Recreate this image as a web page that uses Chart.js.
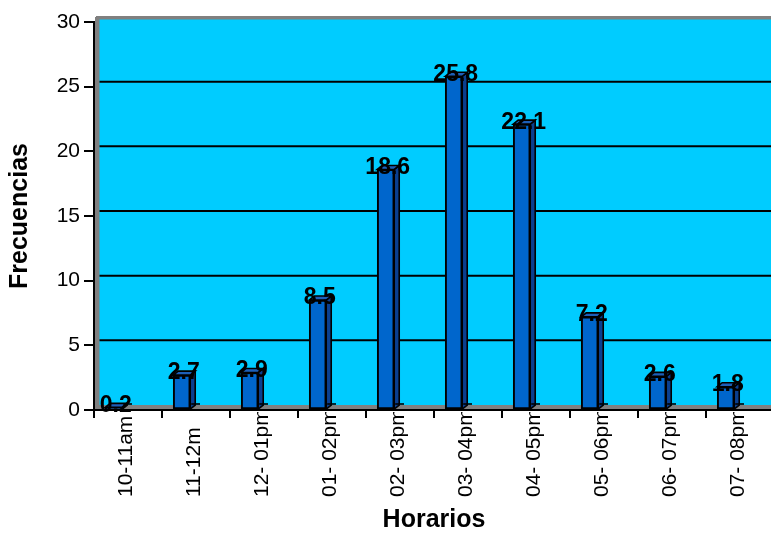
<!DOCTYPE html>
<html>
<head>
<meta charset="utf-8">
<script src="https://cdn.jsdelivr.net/npm/chart.js@4"></script>
<style>
  html, body { margin: 0; padding: 0; background: #fff; overflow: hidden; }
  #wrap { width: 775px; height: 533px; }
</style>
</head>
<body>
<div id="wrap"><canvas id="c" width="775" height="533"></canvas></div>
<script>
const categories = ["10-11am", "11-12m", "12- 01pm", "01- 02pm", "02- 03pm", "03- 04pm", "04- 05pm", "05- 06pm", "06- 07pm", "07- 08pm"];
const values = [0.2, 2.7, 2.9, 8.5, 18.6, 25.8, 22.1, 7.2, 2.6, 1.8];
const valueLabels = ["0.2", "2.7", "2.9", "8.5", "18.6", "25.8", "22.1", "7.2", "2.6", "1.8"];
const yTickValues = [0, 5, 10, 15, 20, 25, 30];
const xTitle = "Horarios";
const yTitle = "Frecuencias";

const FONT = "'Liberation Sans', Arial, sans-serif";
const DEPTH = 5;        // 3D depth offset in px
const BAR_SHIFT = -0.21; // bars sit slightly in front-left of the category centre

const backgroundPlugin = {
  id: 'bg3d',
  beforeDraw(chart) {
    const {ctx, chartArea: a, scales} = chart;
    const ys = scales.y;
    const topY = ys.getPixelForValue(30) - DEPTH;
    ctx.save();
    ctx.fillStyle = '#00CCFF';
    ctx.fillRect(a.left + 1, topY, a.right - a.left, a.bottom - topY);
    ctx.fillStyle = '#808080';
    ctx.fillRect(a.left + 2, topY - 1, a.right - a.left, 3.5);
    ctx.fillRect(a.left + 1, topY, 4.5, a.bottom - topY);
    ctx.fillRect(a.left + 1, a.bottom - DEPTH, a.right - a.left, DEPTH);
    ctx.strokeStyle = '#000';
    ctx.lineWidth = 2;
    yTickValues.forEach(v => {
      if (v === 0 || v === 30) return;
      const y = ys.getPixelForValue(v) - DEPTH;
      ctx.beginPath();
      ctx.moveTo(a.left + 5.5, y);
      ctx.lineTo(a.right + 2, y);
      ctx.stroke();
    });
    ctx.restore();
  }
};

const bars3dPlugin = {
  id: 'bars3d',
  afterDatasetsDraw(chart) {
    const {ctx, scales} = chart;
    const meta = chart.getDatasetMeta(0);
    ctx.save();
    ctx.lineJoin = 'miter';
    meta.data.forEach((bar, i) => {
      const p = bar.getProps(['x', 'y', 'base', 'width'], true);
      const l = p.x - p.width / 2, r = p.x + p.width / 2;
      const t = p.y, b = p.base;
      ctx.beginPath();
      ctx.moveTo(r, t);
      ctx.lineTo(r + DEPTH, t - DEPTH + 1);
      ctx.lineTo(r + DEPTH, b - DEPTH + 1);
      ctx.lineTo(r, b);
      ctx.closePath();
      ctx.fillStyle = '#0B3F8F';
      ctx.fill();
      ctx.strokeStyle = '#000';
      ctx.lineWidth = 1.6;
      ctx.stroke();
      ctx.beginPath();
      ctx.moveTo(l, t);
      ctx.lineTo(l + DEPTH, t - DEPTH + 1);
      ctx.lineTo(r + DEPTH, t - DEPTH + 1);
      ctx.lineTo(r, t);
      ctx.closePath();
      ctx.fillStyle = '#1D5FB8';
      ctx.fill();
      ctx.stroke();
      const cx = scales.x.getPixelForTick(i);
      ctx.beginPath();
      ctx.moveTo(r + 1, b - 5);
      ctx.lineTo(cx + 4, b - 5);
      ctx.lineWidth = 1.6;
      ctx.stroke();
    });
    ctx.fillStyle = '#000';
    ctx.font = `bold 23px ${FONT}`;
    ctx.textAlign = 'center';
    ctx.textBaseline = 'middle';
    meta.data.forEach((bar, i) => {
      const p = bar.getProps(['x', 'y'], true);
      ctx.fillText(valueLabels[i], p.x + 2, p.y - 2);
    });
    ctx.restore();
  },
  afterDraw(chart) {
    const {ctx, scales} = chart;
    const xs = scales.x;
    const baseY = xs.top + 87;
    ctx.save();
    ctx.beginPath();
    ctx.rect(0, xs.top + 2, chart.width, chart.height - xs.top);
    ctx.clip();
    ctx.fillStyle = '#000';
    ctx.font = `21px ${FONT}`;
    ctx.textAlign = 'left';
    ctx.textBaseline = 'middle';
    categories.forEach((c, i) => {
      const x = xs.getPixelForTick(i) - 2;
      ctx.save();
      ctx.translate(x, baseY);
      ctx.rotate(-Math.PI / 2);
      ctx.fillText(c, 0, 0);
      ctx.restore();
    });
    ctx.restore();
  }
};

new Chart(document.getElementById('c'), {
  type: 'bar',
  data: {
    labels: categories,
    datasets: [{
      data: values.map((v, i) => ({ x: i + BAR_SHIFT, y: v })),
      xAxisID: 'xb',
      backgroundColor: '#0066CC',
      borderColor: '#000',
      borderWidth: 2,
      borderSkipped: false,
      barThickness: 17
    }]
  },
  options: {
    responsive: false,
    animation: false,
    events: [],
    layout: { padding: { top: 22, right: 1, left: 0, bottom: 0 } },
    plugins: {
      legend: { display: false },
      tooltip: { enabled: false },
      title: { display: false }
    },
    scales: {
      x: {
        type: 'category',
        labels: categories,
        offset: true,
        grid: { offset: true, drawOnChartArea: false, drawTicks: true, tickLength: 8, color: '#000', lineWidth: 2 },
        border: { display: true, color: '#000', width: 2 },
        ticks: { display: false },
        title: { display: true, text: xTitle, color: '#000', font: { family: FONT, size: 25, weight: 'bold', lineHeight: 1 }, padding: { top: 0, bottom: 0 } },
        afterFit(scale) { scale.height = 123; }
      },
      xb: {
        type: 'linear',
        min: -0.5,
        max: categories.length - 0.5,
        offset: false,
        display: false
      },
      y: {
        min: 0,
        max: 30,
        afterBuildTicks(scale) { scale.ticks = yTickValues.map(v => ({ value: v })); },
        grid: { drawOnChartArea: false, drawTicks: true, tickLength: 10, color: '#000', lineWidth: 2 },
        border: { display: true, color: '#000', width: 2 },
        ticks: { color: '#000', font: { family: FONT, size: 21 }, padding: 4 },
        title: { display: true, text: yTitle, color: '#000', font: { family: FONT, size: 25, weight: 'bold', lineHeight: 1 }, padding: { top: 8, bottom: 0 } },
        afterFit(scale) { scale.width = 94; }
      }
    }
  },
  plugins: [backgroundPlugin, bars3dPlugin]
});
</script>
</body>
</html>
